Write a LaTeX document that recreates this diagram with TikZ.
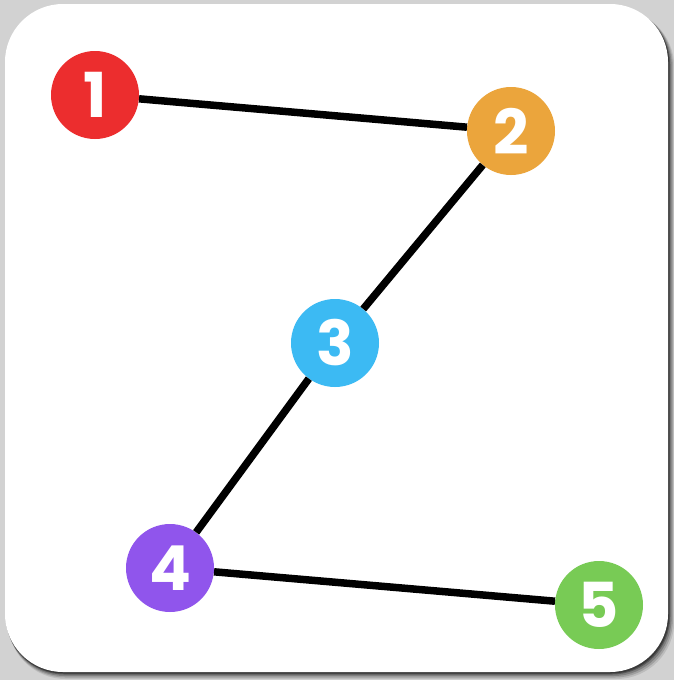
\documentclass[tikz,border=0pt]{standalone}
\usepackage{fontspec}
\setmainfont{Poppins}
\usepackage{xcolor}
\usetikzlibrary{positioning}

\definecolor{dotred}{HTML}{EC2D2E}
\definecolor{dotorange}{HTML}{EBA53C}
\definecolor{dotblue}{HTML}{3CBAF3}
\definecolor{dotpurple}{HTML}{9055EC}
\definecolor{dotgreen}{HTML}{78CB55}
\definecolor{framegray}{HTML}{D2D2D2}

\begin{document}
\begin{tikzpicture}[
    x=1pt, y=-1pt,
    dot/.style={circle, minimum size=88pt, inner sep=0pt, text=white,
                font=\fontsize{62}{62}\selectfont\bfseries},
    link/.style={line width=7.5pt, black}
]

% Frame and card
\useasboundingbox (0,0) rectangle (674,680);
\fill[framegray] (0,0) rectangle (674,680);
\foreach \o/\a in {14/0.1, 11/0.15, 8/0.2, 5/0.3, 3/0.35}
  \fill[black, opacity=\a, rounded corners=58pt] (5+\o*0.2,5+\o*0.3) rectangle (668+\o*0.45,672+\o*0.5);
\fill[white, rounded corners=58pt] (5,4) rectangle (668,672);

% Points
\node[dot, fill=dotred]    (p1) at (95,95)   {1};
\node[dot, fill=dotorange] (p2) at (511,131) {2};
\node[dot, fill=dotblue]   (p3) at (335,343) {3};
\node[dot, fill=dotpurple] (p4) at (170,568) {4};
\node[dot, fill=dotgreen]  (p5) at (599,605) {5};

% Path
\draw[link] (p1) -- (p2);
\draw[link] (p2) -- (p3);
\draw[link] (p3) -- (p4);
\draw[link] (p4) -- (p5);

\end{tikzpicture}
\end{document}
